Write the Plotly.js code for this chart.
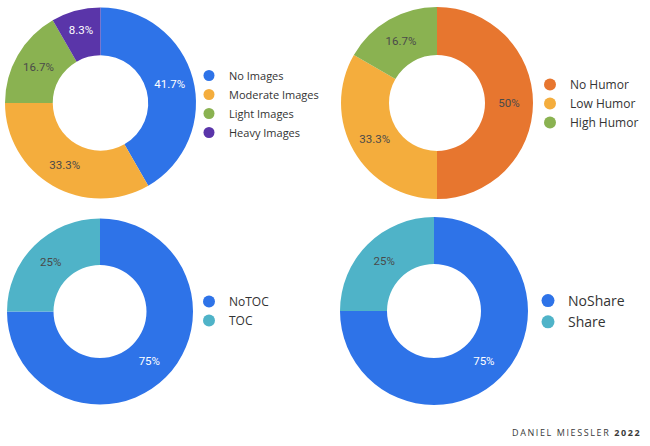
<!DOCTYPE html>
<html>
<head>
<meta charset="utf-8">
<script src="https://cdn.plot.ly/plotly-3.0.1.min.js"></script>
<style>html,body{margin:0;padding:0;background:#fff;}#chart{width:650px;height:446px;}</style>
</head>
<body>
<div id="chart"></div>
<script>
// ---- data ----
const imageLabels = ["No Images", "Moderate Images", "Light Images", "Heavy Images"];
const imageValues = [5, 4, 2, 1];
const humorLabels = ["No Humor", "Low Humor", "High Humor"];
const humorValues = [3, 2, 1];
const tocLabels = ["NoTOC", "TOC"];
const tocValues = [3, 1];
const shareLabels = ["NoShare", "Share"];
const shareValues = [3, 1];

// ---- styles ----
const BLUE = "#2e73e8", ORANGE = "#f4ad3d", GREEN = "#8ab251", PURPLE = "#5a35a9",
      DKORANGE = "#e7762f", TEAL = "#4fb3c8";
const imageColors = [BLUE, ORANGE, GREEN, PURPLE];
const humorColors = [DKORANGE, ORANGE, GREEN];
const tocColors = [BLUE, TEAL];
const shareColors = [BLUE, TEAL];
const LIGHT = "#ffffff", DARK = "#4a4a4a";
const imageText = [LIGHT, DARK, DARK, LIGHT];
const humorText = [DARK, DARK, DARK];
const tocText = [LIGHT, DARK];
const shareText = [LIGHT, DARK];

function pctText(vals) {
  const s = vals.reduce((a, b) => a + b, 0);
  return vals.map(v => (v / s * 100).toFixed(1).replace(/\.0$/, "") + "%");
}

const W = 650, H = 446;
function dom(x0, x1, y0, y1) {
  return { x: [x0 / W, x1 / W], y: [1 - y1 / H, 1 - y0 / H] };
}

function pie(labels, values, colors, txtColors, domain) {
  return {
    type: "pie", labels: labels, values: values, sort: false,
    direction: "clockwise", rotation: 0, hole: 0.5,
    marker: { colors: colors, line: { width: 0 } },
    text: pctText(values), textinfo: "text", textposition: "inside",
    insidetextorientation: "horizontal",
    insidetextfont: { family: "Roboto", size: 11.5, color: txtColors },
    domain: domain, showlegend: false, hoverinfo: "label+percent"
  };
}

function legendTraces(labels, colors, legendId, size) {
  return labels.map((l, i) => ({
    type: "scatter", mode: "markers", x: [null], y: [null], name: l,
    marker: { symbol: "circle", size: size, color: colors[i] },
    legend: legendId, showlegend: true, hoverinfo: "skip"
  }));
}

const data = [
  pie(imageLabels, imageValues, imageColors, imageText, dom(5, 196, 7, 199)),
  pie(humorLabels, humorValues, humorColors, humorText, dom(341, 533, 7, 199)),
  pie(tocLabels, tocValues, tocColors, tocText, dom(7, 193, 218, 405)),
  pie(shareLabels, shareValues, shareColors, shareText, dom(340, 528, 217, 405)),
  ...legendTraces(imageLabels, imageColors, "legend", 11),
  ...legendTraces(humorLabels, humorColors, "legend2", 12),
  ...legendTraces(tocLabels, tocColors, "legend3", 12),
  ...legendTraces(shareLabels, shareColors, "legend4", 13)
];

function leg(x, y, size) {
  return {
    x: x / W, y: 1 - y / H, xanchor: "left", yanchor: "top",
    xref: "paper", yref: "paper", bgcolor: "rgba(0,0,0,0)",
    font: { family: "Open Sans", size: size, color: "#333" },
    itemwidth: 30, tracegroupgap: 0
  };
}

const layout = {
  width: W, height: H,
  margin: { l: 0, r: 0, t: 0, b: 0 },
  paper_bgcolor: "#fff", plot_bgcolor: "#fff",
  xaxis: { visible: false, domain: [0, 0.01] },
  yaxis: { visible: false, domain: [0, 0.01] },
  legend: leg(189, 61, 11),
  legend2: leg(530, 70, 12),
  legend3: leg(189, 287, 12),
  legend4: leg(528, 285, 14),
  annotations: [{
    xref: "paper", yref: "paper", x: 643 / W, y: 1 - 432 / H,
    xanchor: "right", yanchor: "middle", showarrow: false,
    text: '<span style="letter-spacing:1.6px">DANIEL MIESSLER <b>2022</b></span>',
    font: { family: "Open Sans", size: 9, color: "#3a3a3a" }
  }]
};

Plotly.newPlot("chart", data, layout, { displayModeBar: false, staticPlot: true });
</script>
</body>
</html>
